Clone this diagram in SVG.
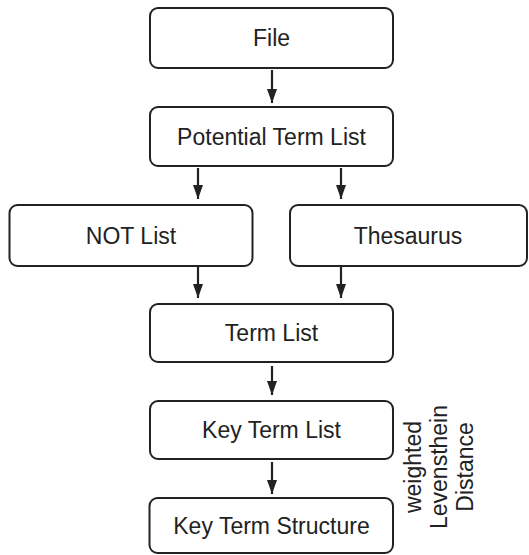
<svg xmlns="http://www.w3.org/2000/svg" width="529" height="555" viewBox="0 0 529 555">
<style>
.box{fill:#fff;stroke:#222;stroke-width:2}
.lbl{font-family:"Liberation Sans",Arial,sans-serif;font-size:23px;fill:#222;text-anchor:middle}
.edge{stroke:#222;stroke-width:2.2;fill:none;marker-end:url(#ah)}
</style>
<defs>
<marker id="ah" viewBox="0 0 14 10" refX="14" refY="5" markerWidth="14" markerHeight="10" markerUnits="userSpaceOnUse" orient="auto">
<path d="M0,0 L14,5 L0,10 z" fill="#222"/>
</marker>
</defs>
<rect width="529" height="555" fill="#fff"/>
<g id="connectors">
<line class="edge" x1="272" y1="70" x2="272" y2="103"/>
<line class="edge" x1="198" y1="168" x2="198" y2="199"/>
<line class="edge" x1="341" y1="168" x2="341" y2="199"/>
<line class="edge" x1="198" y1="267" x2="198" y2="298"/>
<line class="edge" x1="341" y1="267" x2="341" y2="298"/>
<line class="edge" x1="272" y1="366" x2="272" y2="395"/>
<line class="edge" x1="272" y1="462" x2="272" y2="494"/>
</g>
<g id="file">
<rect class="box" x="150" y="8" width="243" height="60" rx="8"/>
<text class="lbl" x="271.5" y="46">File</text>
</g>
<g id="potential">
<rect class="box" x="150" y="107" width="243" height="59" rx="8"/>
<text class="lbl" x="271.5" y="144.5">Potential Term List</text>
</g>
<g id="notlist">
<rect class="box" x="9.5" y="205" width="243" height="61" rx="8"/>
<text class="lbl" x="131" y="243.5">NOT List</text>
</g>
<g id="thesaurus">
<rect class="box" x="290" y="205" width="237" height="61" rx="8"/>
<text class="lbl" x="408" y="243.5">Thesaurus</text>
</g>
<g id="termlist">
<rect class="box" x="150" y="304" width="243" height="58" rx="8"/>
<text class="lbl" x="271.5" y="341">Term List</text>
</g>
<g id="keytermlist">
<rect class="box" x="150" y="401" width="243" height="58" rx="8"/>
<text class="lbl" x="271.5" y="438">Key Term List</text>
</g>
<g id="keytermstructure">
<rect class="box" x="149.5" y="498" width="243.5" height="55" rx="8"/>
<text class="lbl" x="271.5" y="533.5">Key Term Structure</text>
</g>
<g id="edge-label">
<text class="lbl" transform="translate(421,467) rotate(-90)">weighted</text>
<text class="lbl" transform="translate(447,467) rotate(-90)">Levensthein</text>
<text class="lbl" transform="translate(473,467) rotate(-90)">Distance</text>
</g>
</svg>
